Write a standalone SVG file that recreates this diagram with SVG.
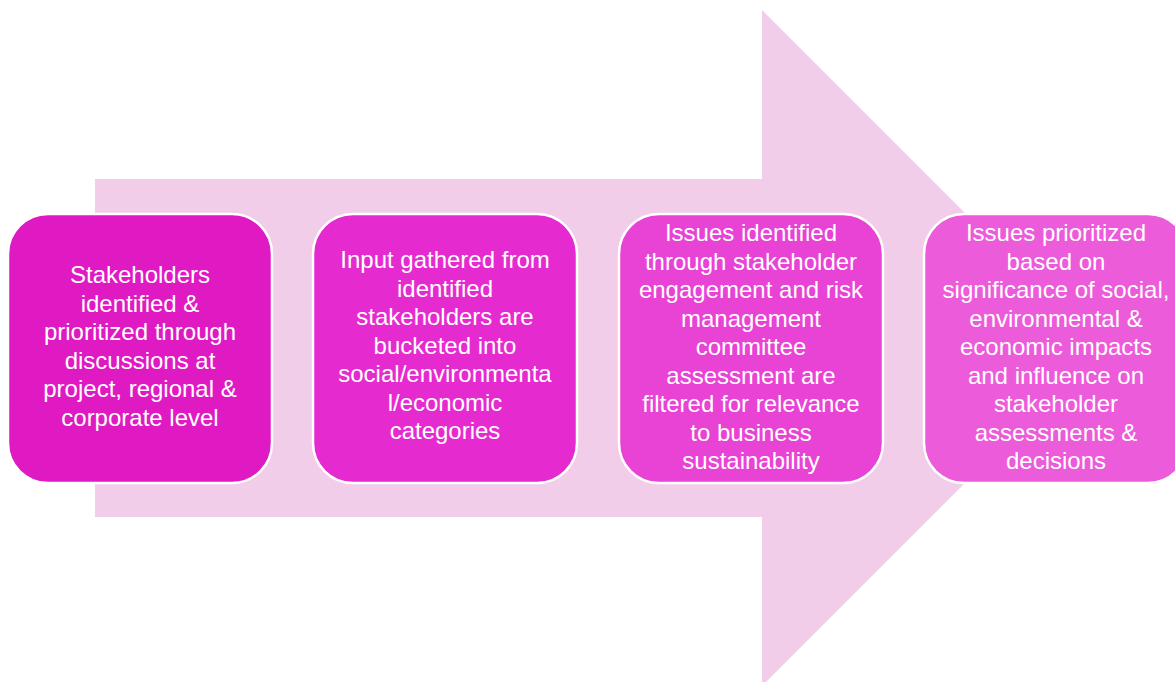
<svg xmlns="http://www.w3.org/2000/svg" width="1175" height="682" viewBox="0 0 1175 682">
<style>
.box{stroke:#fff;stroke-width:2.5}
.t{font-family:"Liberation Sans",Arial,sans-serif;font-size:24px;fill:#fff;text-anchor:middle}
</style>
<rect width="1175" height="682" fill="#fff"/>
<g id="arrow">
<polygon points="95,179 762,179 762,10 1100,348 762,686 762,517 95,517" fill="#F2CDEA"/>
</g>
<g id="connectors"></g>
<g id="step1">
<rect class="box" x="8" y="214" width="264" height="269" rx="40" fill="#DF1AC3"/>
<text class="t"><tspan x="140" y="283">Stakeholders</tspan><tspan x="140" y="311.5">identified &amp;</tspan><tspan x="140" y="340">prioritized through</tspan><tspan x="140" y="368.5">discussions at</tspan><tspan x="140" y="397">project, regional &amp;</tspan><tspan x="140" y="425.5">corporate level</tspan></text>
</g>
<g id="step2">
<rect class="box" x="313" y="214" width="264" height="269" rx="40" fill="#E52BD0"/>
<text class="t"><tspan x="445" y="268">Input gathered from</tspan><tspan x="445" y="296.5">identified</tspan><tspan x="445" y="325">stakeholders are</tspan><tspan x="445" y="353.5">bucketed into</tspan><tspan x="445" y="382">social/environmenta</tspan><tspan x="445" y="410.5">l/economic</tspan><tspan x="445" y="439">categories</tspan></text>
</g>
<g id="step3">
<rect class="box" x="619" y="214" width="264" height="269" rx="40" fill="#E843D5"/>
<text class="t"><tspan x="751" y="241">Issues identified</tspan><tspan x="751" y="269.5">through stakeholder</tspan><tspan x="751" y="298">engagement and risk</tspan><tspan x="751" y="326.5">management</tspan><tspan x="751" y="355">committee</tspan><tspan x="751" y="383.5">assessment are</tspan><tspan x="751" y="412">filtered for relevance</tspan><tspan x="751" y="440.5">to business</tspan><tspan x="751" y="469">sustainability</tspan></text>
</g>
<g id="step4">
<rect class="box" x="924" y="214" width="264" height="269" rx="40" fill="#EC5BDA"/>
<text class="t"><tspan x="1056" y="241">Issues prioritized</tspan><tspan x="1056" y="269.5">based on</tspan><tspan x="1056" y="298">significance of social,</tspan><tspan x="1056" y="326.5">environmental &amp;</tspan><tspan x="1056" y="355">economic impacts</tspan><tspan x="1056" y="383.5">and influence on</tspan><tspan x="1056" y="412">stakeholder</tspan><tspan x="1056" y="440.5">assessments &amp;</tspan><tspan x="1056" y="469">decisions</tspan></text>
</g>
</svg>
